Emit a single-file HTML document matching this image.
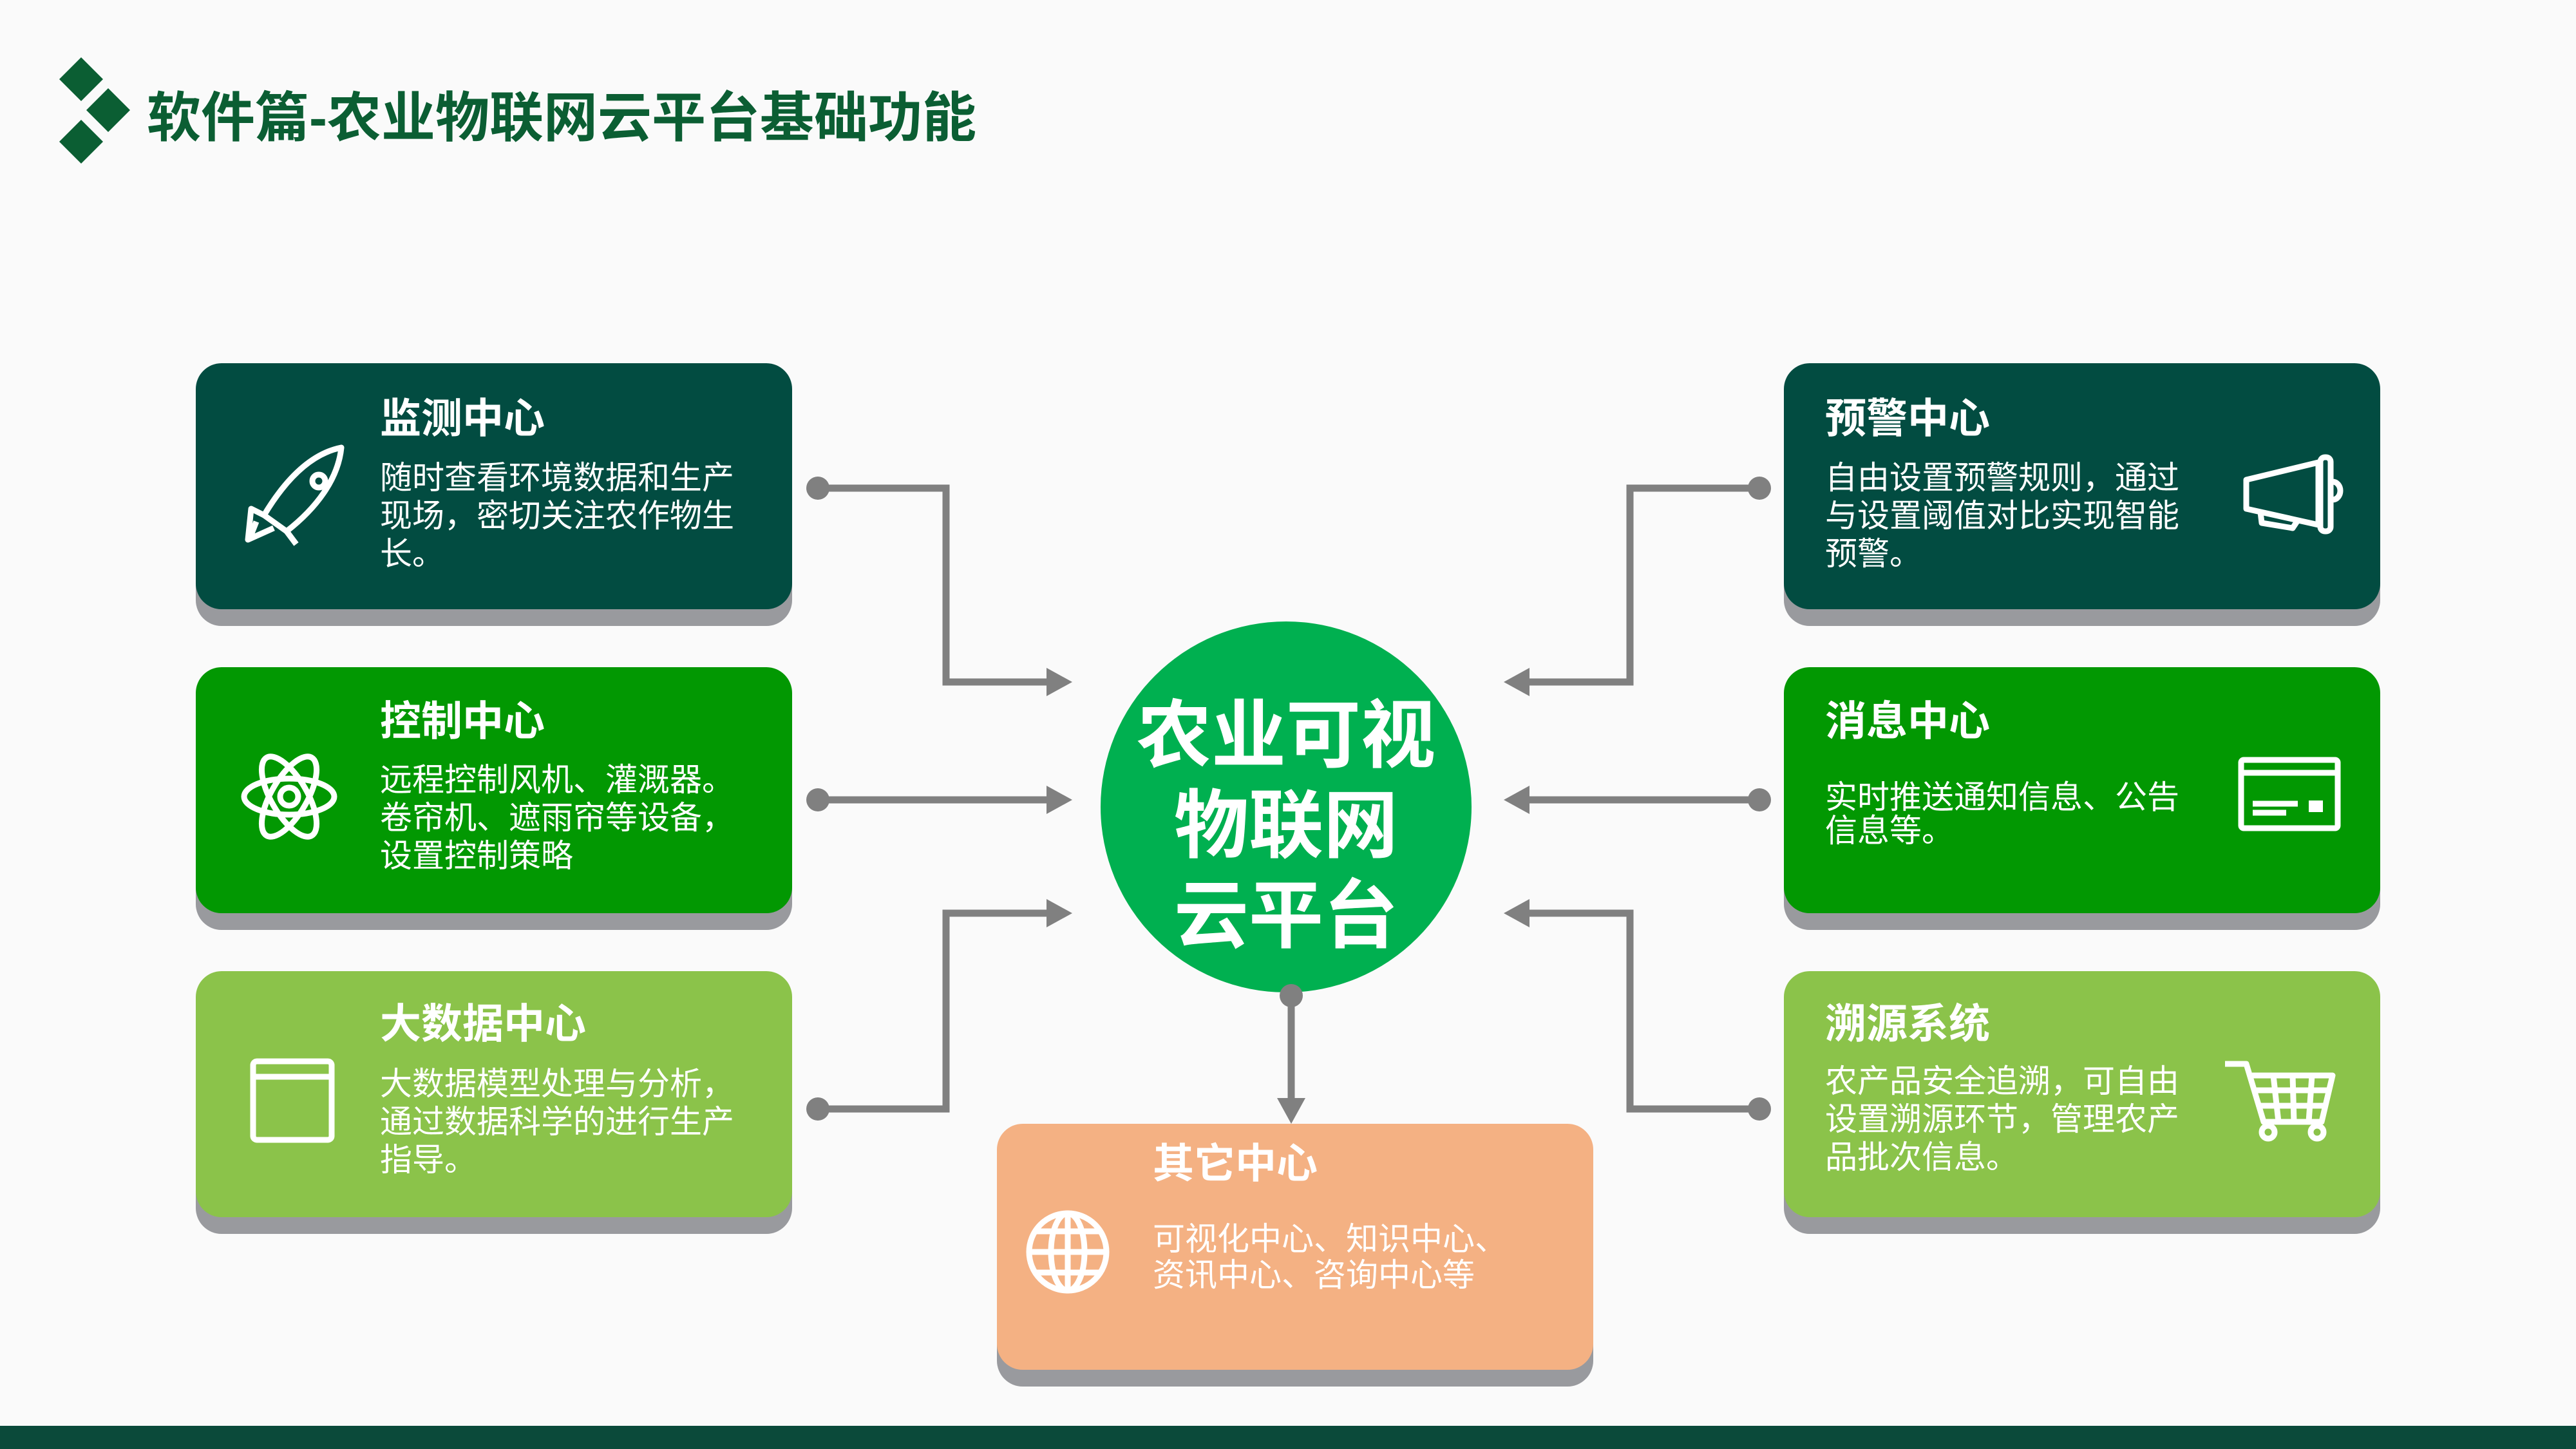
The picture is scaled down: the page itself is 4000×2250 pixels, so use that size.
<!DOCTYPE html>
<html><head><meta charset="utf-8"><style>
*{margin:0;padding:0;box-sizing:border-box}
body{width:4000px;height:2250px;background:#fafafa;position:relative;overflow:hidden;font-family:"Liberation Sans","Noto Sans CJK SC",sans-serif}
.box{position:absolute;width:926px;height:382px;border-radius:40px;box-shadow:0 26px 0 #999a9e}
.t{position:absolute;color:#fff;font-weight:bold;font-size:64px;line-height:70px;white-space:nowrap}
.b{position:absolute;color:#fff;font-size:50px;line-height:59px;white-space:nowrap}
.d{background:#024c41}.m{background:#029802}.l{background:#8bc34a}.o{background:#f4b183}
</style></head><body>
<div style="position:absolute;left:228px;top:133px;font-size:84px;font-weight:bold;color:#0b5e33;white-space:nowrap;line-height:100px">软件篇-农业物联网云平台基础功能</div>

<div class="box d" style="left:304px;top:564px"></div>
<div class="box m" style="left:304px;top:1036px"></div>
<div class="box l" style="left:304px;top:1508px"></div>
<div class="box d" style="left:2770px;top:564px"></div>
<div class="box m" style="left:2770px;top:1036px"></div>
<div class="box l" style="left:2770px;top:1508px"></div>
<div class="box o" style="left:1548px;top:1745px"></div>

<div class="t" style="left:590px;top:615px">监测中心</div>
<div class="b" style="left:590px;top:713px">随时查看环境数据和生产<br>现场，密切关注农作物生<br>长。</div>
<div class="t" style="left:590px;top:1085px">控制中心</div>
<div class="b" style="left:590px;top:1182px">远程控制风机、灌溉器。<br>卷帘机、遮雨帘等设备，<br>设置控制策略</div>
<div class="t" style="left:590px;top:1555px">大数据中心</div>
<div class="b" style="left:590px;top:1654px">大数据模型处理与分析，<br>通过数据科学的进行生产<br>指导。</div>

<div class="t" style="left:2834px;top:615px">预警中心</div>
<div class="b" style="left:2834px;top:713px">自由设置预警规则，通过<br>与设置阈值对比实现智能<br>预警。</div>
<div class="t" style="left:2834px;top:1085px">消息中心</div>
<div class="b" style="left:2834px;top:1212px;line-height:52px">实时推送通知信息、公告<br>信息等。</div>
<div class="t" style="left:2834px;top:1555px">溯源系统</div>
<div class="b" style="left:2834px;top:1650px">农产品安全追溯，可自由<br>设置溯源环节，管理农产<br>品批次信息。</div>

<div class="t" style="left:1790px;top:1772px">其它中心</div>
<div class="b" style="left:1790px;top:1896px;line-height:56px">可视化中心、知识中心、<br>资讯中心、咨询中心等</div>

<div style="position:absolute;left:1709px;top:965px;width:576px;height:576px;border-radius:50%;background:#00b050"></div>
<div style="position:absolute;left:1709px;top:1072px;width:576px;text-align:center;color:#fff;font-weight:bold;font-size:116px;line-height:140px">农业可视<br>物联网<br>云平台</div>

<div style="position:absolute;left:0;top:2214px;width:4000px;height:36px;background:#0b4a3a"></div>

<svg width="4000" height="2250" style="position:absolute;left:0;top:0" fill="none">
<g fill="#0b5e33"><polygon points="126,89 160,123 126,157 92,123"/><polygon points="168,137 202,171 168,205 134,171"/><polygon points="126,186 160,220 126,254 92,220"/></g>
<g stroke="#808080" stroke-width="11" fill="none">
<polyline points="1270,758 1469,758 1469,1059 1630,1059"/>
<polyline points="1270,1242 1630,1242"/>
<polyline points="1270,1722 1469,1722 1469,1418 1630,1418"/>
<polyline points="2732,758 2531,758 2531,1059 2370,1059"/>
<polyline points="2732,1242 2370,1242"/>
<polyline points="2732,1722 2531,1722 2531,1418 2370,1418"/>
<polyline points="2005,1546 2005,1710"/>
</g>
<g fill="#808080">
<circle cx="1270" cy="758" r="18"/><circle cx="1270" cy="1242" r="18"/><circle cx="1270" cy="1722" r="18"/>
<circle cx="2732" cy="758" r="18"/><circle cx="2732" cy="1242" r="18"/><circle cx="2732" cy="1722" r="18"/>
<circle cx="2005" cy="1546" r="18"/>
<polygon points="1665,1059 1625,1037 1625,1081"/><polygon points="1665,1242 1625,1220 1625,1264"/><polygon points="1665,1418 1625,1396 1625,1440"/>
<polygon points="2335,1059 2375,1037 2375,1081"/><polygon points="2335,1242 2375,1220 2375,1264"/><polygon points="2335,1418 2375,1396 2375,1440"/>
<polygon points="2005,1745 1983,1705 2027,1705"/>
</g>
<g stroke="#fff" stroke-width="9" fill="none" stroke-linejoin="round">
<path d="M530,695 C480,705 440,750 410,800 L445,825 C490,790 525,745 530,695Z"/>
<circle cx="495" cy="747" r="10"/>
<path d="M410,800 L390,790 L385,838 L425,820"/>
<path d="M445,825 L460,845"/>
<path d="M398,810 L387,838"/>
<ellipse cx="449" cy="1237" rx="70" ry="28"/>
<ellipse cx="449" cy="1237" rx="70" ry="28" transform="rotate(60 449 1237)"/>
<ellipse cx="449" cy="1237" rx="70" ry="28" transform="rotate(-60 449 1237)"/>
<circle cx="449" cy="1237" r="14"/>
<rect x="393" y="1648" width="122" height="122" rx="6"/>
<line x1="393" y1="1672" x2="515" y2="1672"/>
<path d="M3488,745 L3600,718 L3600,815 L3488,790Z"/>
<rect x="3603" y="710" width="16" height="115" rx="7"/>
<path d="M3622,748 a12,14 0 0 1 0,28"/>
<path d="M3510,795 L3512,812 L3560,820 L3568,808"/>
<rect x="3480" y="1180" width="150" height="106" rx="4"/>
<line x1="3480" y1="1200" x2="3630" y2="1200"/>
<line x1="3498" y1="1248" x2="3568" y2="1248"/>
<line x1="3498" y1="1262" x2="3550" y2="1262"/>
<path d="M3455,1652 L3488,1652 L3515,1742 L3605,1742 L3622,1670 L3497,1670"/>
<path d="M3502,1693 L3615,1693 M3508,1717 L3610,1717 M3530,1670 L3538,1742 M3560,1670 L3562,1742 M3590,1670 L3585,1742"/>
<circle cx="3522" cy="1758" r="10"/><circle cx="3598" cy="1758" r="10"/>
<circle cx="1658" cy="1944" r="60"/>
<ellipse cx="1658" cy="1944" rx="26" ry="60"/>
<line x1="1658" y1="1884" x2="1658" y2="2004"/>
<line x1="1598" y1="1944" x2="1718" y2="1944"/>
<path d="M1608,1912 L1708,1912 M1608,1976 L1708,1976"/>
</g>
<rect x="3585" y="1243" width="22" height="18" fill="#fff"/>
</svg>
</body></html>
